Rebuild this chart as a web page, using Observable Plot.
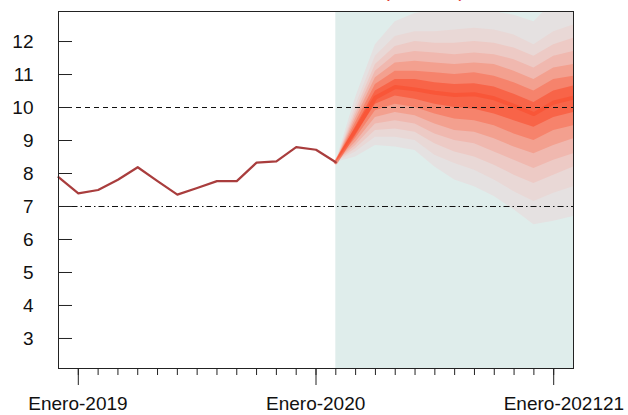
<!DOCTYPE html>
<html><head><meta charset="utf-8">
<script src="https://cdn.jsdelivr.net/npm/d3@7"></script>
<script src="https://cdn.jsdelivr.net/npm/@observablehq/plot@0.6"></script>
<style>body{margin:0;background:#fff;} #chart svg{display:block;}</style>
</head><body><div id="chart"></div>
<script>
// months indexed from Enero-2019 = 0
const histMonths = [-1,0,1,2,3,4,5,6,7,8,9,10,11,12,13];
const histValues = [7.89,7.40,7.50,7.81,8.19,7.77,7.36,7.56,7.77,7.77,8.33,8.37,8.80,8.72,8.34];

const fcMonths = [13,14,15,16,17,18,19,20,21,22,23,24,25];
const fcMedian = [8.34,9.3,10.3,10.62,10.55,10.45,10.38,10.4,10.28,10.05,9.8,10.15,10.3];
const fcU1 = [8.34,10.3,11.9,12.6,12.85,12.95,12.95,12.95,12.9,12.8,12.6,13.2,13.4];
const fcU2 = [8.34,10.05,11.55,12.15,12.3,12.3,12.35,12.4,12.35,12.2,11.9,12.3,12.5];
const fcU3 = [8.34,9.9,11.3,11.85,12.0,11.95,11.95,12.0,11.95,11.8,11.55,11.9,12.1];
const fcU4 = [8.34,9.78,11.1,11.6,11.7,11.65,11.6,11.65,11.6,11.45,11.2,11.55,11.7];
const fcU5 = [8.34,9.66,10.9,11.35,11.4,11.35,11.3,11.35,11.3,11.1,10.85,11.2,11.3];
const fcU6 = [8.34,9.54,10.7,11.1,11.1,11.05,11.0,11.05,10.95,10.75,10.5,10.85,10.95];
const fcU7 = [8.34,9.42,10.5,10.85,10.85,10.75,10.7,10.72,10.62,10.4,10.15,10.5,10.65];
const fcL7 = [8.34,9.18,10.1,10.35,10.25,10.1,10.0,9.95,9.8,9.6,9.4,9.7,9.85];
const fcL6 = [8.34,9.06,9.9,10.1,10.0,9.8,9.65,9.6,9.45,9.2,9.0,9.3,9.45];
const fcL5 = [8.34,8.95,9.7,9.85,9.75,9.5,9.3,9.25,9.05,8.8,8.6,8.85,9.05];
const fcL4 = [8.34,8.85,9.5,9.6,9.5,9.2,9.0,8.9,8.65,8.4,8.15,8.4,8.6];
const fcL3 = [8.34,8.75,9.3,9.35,9.25,8.9,8.65,8.5,8.25,7.95,7.7,7.95,8.2];
const fcL2 = [8.34,8.65,9.1,9.1,9.0,8.55,8.3,8.1,7.8,7.45,7.15,7.4,7.6];
const fcL1 = [8.34,8.5,8.85,8.8,8.7,8.2,7.8,7.6,7.3,6.9,6.45,6.55,6.7];

const yTicks = [3,4,5,6,7,8,9,10,11,12];
const majorTicks = [0,12,24];
const majorLabels = ["Enero-2019","Enero-2020","Enero-202121"];
const minorTicks = d3.range(0,25);
const refUpper = 10;
const refLower = 7;
const titleText = "Pronóstico de la inflación (% anual)";

const yDomain = [2.09, 12.91];
const xDomain = [histMonths[0], fcMonths[fcMonths.length-1]];

const hist = histMonths.map((m,i)=>({m, v: histValues[i]}));
const fcMed = fcMonths.map((m,i)=>({m, v: fcMedian[i]}));
const uppers = [fcU1,fcU2,fcU3,fcU4,fcU5,fcU6,fcU7];
const lowers = [fcL1,fcL2,fcL3,fcL4,fcL5,fcL6,fcL7];
const fanColors = ["#e5e1e1","#e9d8d6","#edcac5","#f0b8af","#f3a08f","#f6836c","#f86448"];

const fanMarks = uppers.map((U,k)=>{
  const rows = fcMonths.map((m,i)=>({m, lo: lowers[k][i], hi: U[i]}));
  return Plot.areaY(rows, {x:"m", y1:"lo", y2:"hi", fill: fanColors[k], clip: true});
});

const chart = Plot.plot({
  width: 628, height: 415,
  marginLeft: 58, marginRight: 55, marginTop: 11, marginBottom: 47,
  style: {fontFamily: "'Liberation Sans', Arial, sans-serif", fontSize: "19px", background: "#fff"},
  x: {domain: xDomain, label: null},
  y: {domain: yDomain, label: null},
  marks: [
    Plot.rect([0], {x1: fcMonths[0], x2: fcMonths[fcMonths.length-1], y1: yDomain[0], y2: yDomain[1], fill: "#dfedeb"}),
    ...fanMarks,
    Plot.line(fcMed, {x:"m", y:"v", stroke:"#f94a2b", strokeWidth: 4, strokeOpacity: 0.55, clip: true}),
    Plot.line(hist, {x:"m", y:"v", stroke:"#a93d3d", strokeWidth: 2.2}),
    Plot.ruleY([refUpper], {stroke:"#111", strokeDasharray:"5,4", strokeWidth:1.1}),
    Plot.ruleY([refLower], {stroke:"#111", strokeDasharray:"6,3,1.5,3", strokeWidth:1.1}),
    Plot.frame({stroke:"#222"}),
    Plot.axisY(yTicks, {tickSize: 0, tickPadding: 25, fontSize: 19, fill: "#111", label: null}),
    Plot.axisY(yTicks, {tickSize: -14, tickFormat: () => "", stroke: "#222", label: null}),
    Plot.axisX(majorTicks, {tickSize: 17, tickFormat: () => "", stroke: "#222", label: null}),
    Plot.axisX(minorTicks, {tickSize: 7, tickFormat: () => "", stroke: "#222", label: null}),
    Plot.text(majorTicks, {x: d=>d, text: (d,i)=>majorLabels[i], frameAnchor: "bottom", textAnchor: "start", lineAnchor: "top", dx: -50, dy: 28, fontSize: 19, fill: "#111"}),
    Plot.text([titleText], {frameAnchor: "top", text: d=>d, fill: "#e2342b", fontSize: 19, lineAnchor: "bottom", dy: -15})
  ]
});
document.getElementById("chart").appendChild(chart);
</script>
</body></html>
